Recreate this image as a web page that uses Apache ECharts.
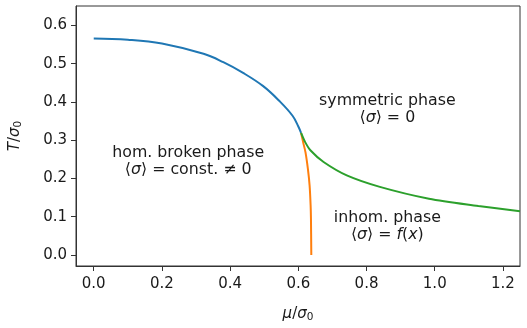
<!DOCTYPE html>
<html>
<head>
<meta charset="utf-8">
<script src="https://cdn.jsdelivr.net/npm/echarts@6/dist/echarts.min.js"></script>
<style>
  html, body { margin: 0; padding: 0; background: #fff; }
  #main { width: 527px; height: 328px; }
</style>
</head>
<body>
<div id="main"></div>
<script>
// phase boundary (mu/sigma0, T/sigma0)
const blueMu = [0, 0.1, 0.2, 0.322, 0.380, 0.438, 0.496, 0.544, 0.583, 0.600, 0.608]
const blueT = [0.566, 0.563, 0.553, 0.526, 0.504, 0.476, 0.442, 0.403, 0.364, 0.336, 0.319]
const orangeMu = [0.608, 0.614, 0.621, 0.628, 0.633, 0.636, 0.637, 0.638]
const orangeT = [0.319, 0.295, 0.268, 0.225, 0.182, 0.130, 0.095, 0.0]
const greenMu = [0.608, 0.620, 0.636, 0.674, 0.742, 0.839, 0.983, 1.128, 1.25]
const greenT = [0.319, 0.295, 0.273, 0.243, 0.208, 0.178, 0.147, 0.128, 0.114]

const xTicks = [0.0, 0.2, 0.4, 0.6, 0.8, 1.0, 1.2]
const yTicks = [0.0, 0.1, 0.2, 0.3, 0.4, 0.5, 0.6]

// phase labels
const annotMu = [0.861, 0.277, 0.861]
const annotT = [0.381, 0.245, 0.0745]
const annotText = [
  '{r|symmetric phase}\n{r|⟨}{i|σ}{r|⟩ = 0}',
  '{r|hom. broken phase}\n{r|⟨}{i|σ}{r|⟩ = const. ≠ 0}',
  '{r|inhom. phase}\n{r|⟨}{i|σ}{r|⟩ = }{i|f}{r|(}{i|x}{r|)}',
]

const font = 'DejaVu Sans'
const fs = 15
const textColor = '#1a1a1a'
const rich = {
  r: { fontFamily: font, fontSize: fs, color: textColor, lineHeight: 17 },
  i: { fontFamily: font, fontSize: fs, fontStyle: 'italic', color: textColor, lineHeight: 17 },
  s: { fontFamily: font, fontSize: 10.5, color: textColor, verticalAlign: 'bottom', lineHeight: 17 },
}
const annotRich = {
  r: { ...rich.r, fontSize: 15.8 },
  i: { ...rich.i, fontSize: 15.8 },
}

function pairs(xs, ys) {
  return xs.map((x, i) => [x, ys[i]])
}

const axisCommon = {
  type: 'value',
  splitLine: { show: false },
  axisLine: { show: true, onZero: false, lineStyle: { color: '#333', width: 1 } },
  axisTick: { show: true, length: 5, lineStyle: { color: '#333', width: 1 } },
  axisLabel: {
    fontFamily: font,
    fontSize: fs,
    color: textColor,
    margin: 9,
  },
}

const chart = echarts.init(document.getElementById('main'))
chart.setOption({
  animation: false,
  grid: {
    left: 71, right: 7, top: 6, bottom: 60,
    show: true, borderColor: '#333', borderWidth: 1,
  },
  xAxis: {
    ...axisCommon,
    min: -0.052,
    max: 1.25,
    axisTick: { ...axisCommon.axisTick, customValues: xTicks },
    axisLabel: { ...axisCommon.axisLabel, margin: 11, customValues: xTicks, formatter: v => v.toFixed(1) },
    name: '{i|μ}{r|/}{i|σ}{s|0}',
    nameLocation: 'middle',
    nameGap: 40,
    nameTextStyle: { rich },
  },
  yAxis: {
    ...axisCommon,
    min: -0.029,
    max: 0.651,
    axisTick: { ...axisCommon.axisTick, customValues: yTicks },
    axisLabel: { ...axisCommon.axisLabel, customValues: yTicks, formatter: v => v.toFixed(1) },
    name: '{i|T}{r|/}{i|σ}{s|0}',
    nameLocation: 'middle',
    nameRotate: 90,
    nameGap: 52,
    nameTextStyle: { rich },
  },
  series: [
    {
      type: 'line', data: pairs(blueMu, blueT), smooth: 0.4, showSymbol: false,
      lineStyle: { color: '#1f77b4', width: 2 },
    },
    {
      type: 'line', data: pairs(orangeMu, orangeT), smooth: 0.3, showSymbol: false,
      lineStyle: { color: '#ff7f0e', width: 2 },
    },
    {
      type: 'line', data: pairs(greenMu, greenT), smooth: 0.3, showSymbol: false,
      lineStyle: { color: '#2ca02c', width: 2 },
    },
    {
      type: 'scatter', data: pairs(annotMu, annotT), symbolSize: 0, silent: true,
      itemStyle: { opacity: 1 },
      label: {
        show: true, position: 'inside', align: 'center', verticalAlign: 'middle',
        color: textColor, textBorderWidth: 0,
        formatter: p => annotText[p.dataIndex],
        rich: annotRich,
      },
    },
  ],
})
</script>
</body>
</html>
